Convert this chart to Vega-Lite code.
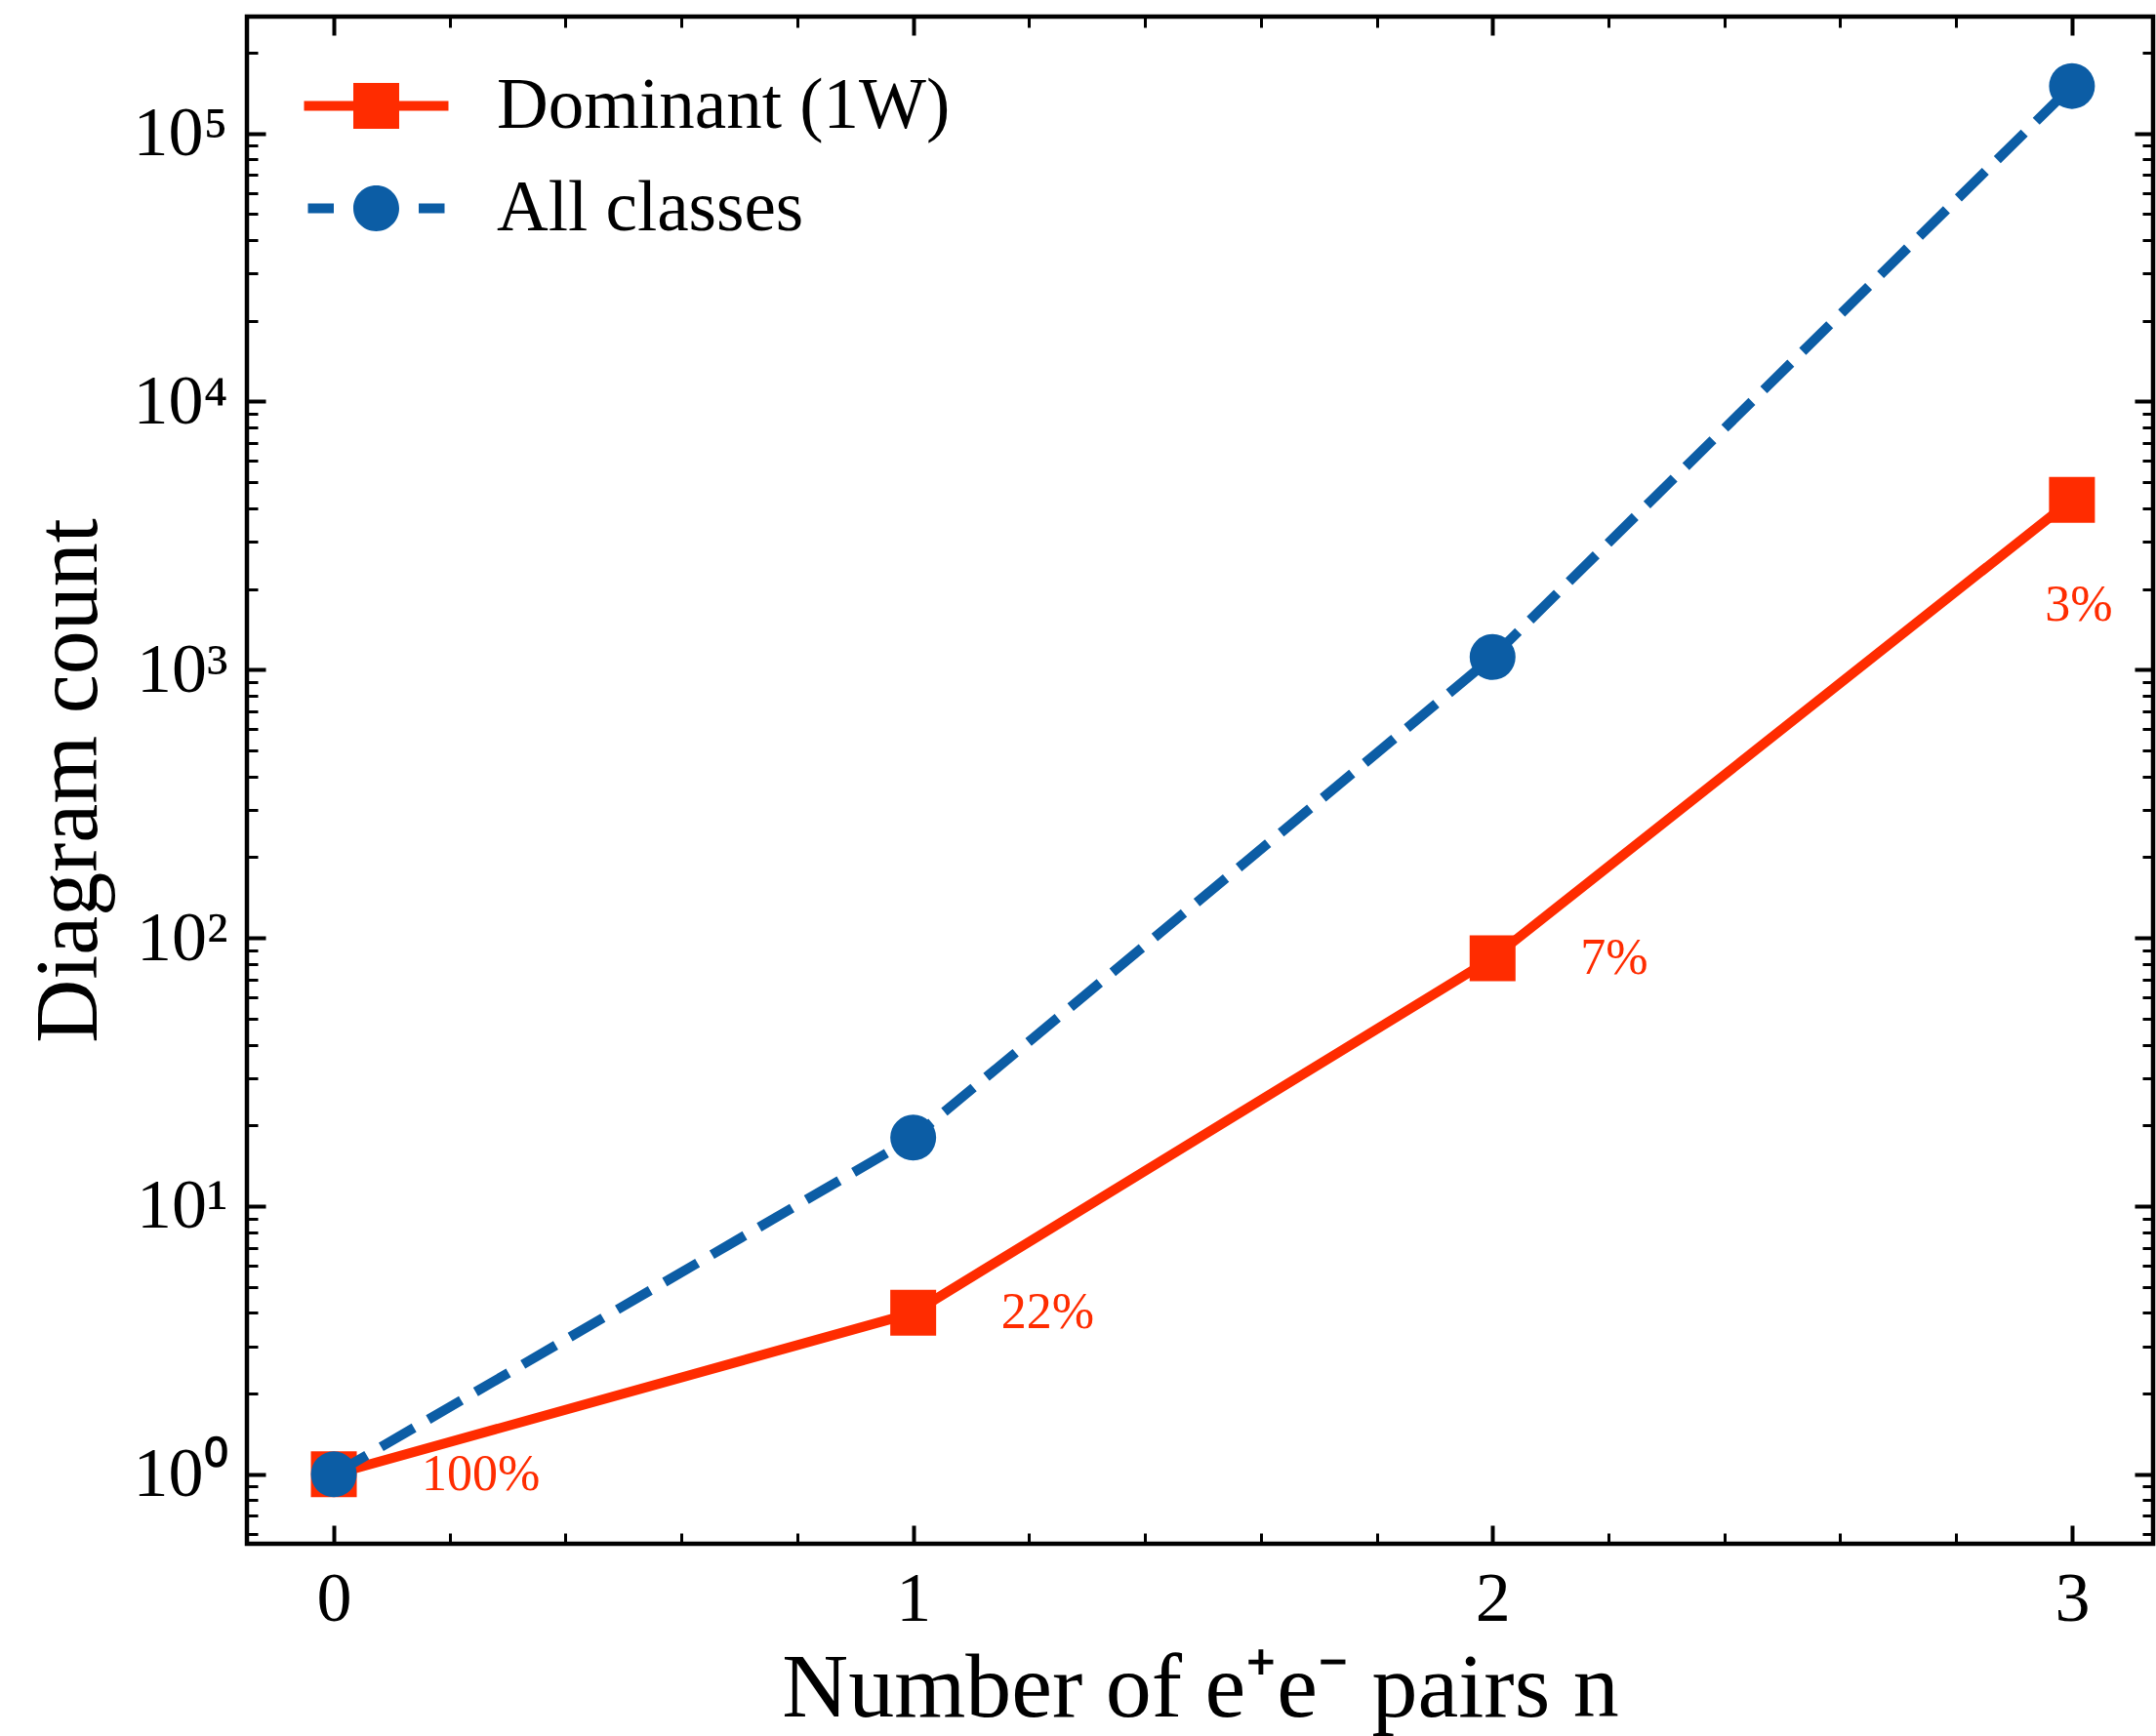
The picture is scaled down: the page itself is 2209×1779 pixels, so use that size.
{
  "$schema": "https://vega.github.io/schema/vega-lite/v6.json",
  "autosize": {"type": "none"},
  "padding": {"left": 253, "top": 17, "right": 3, "bottom": 197},
  "width": 1953,
  "height": 1565,
  "background": "white",
  "config": {
    "view": {"stroke": "black", "strokeWidth": 4.5},
    "font": "Liberation Serif"
  },
  "data": {
    "values": [
      {"n": 0, "series": "Dominant (1W)", "count": 1, "pct": "100%"},
      {"n": 1, "series": "Dominant (1W)", "count": 4, "pct": "22%"},
      {"n": 2, "series": "Dominant (1W)", "count": 84, "pct": "7%"},
      {"n": 3, "series": "Dominant (1W)", "count": 4300, "pct": "3%"},
      {"n": 0, "series": "All classes", "count": 1},
      {"n": 1, "series": "All classes", "count": 18},
      {"n": 2, "series": "All classes", "count": 1115},
      {"n": 3, "series": "All classes", "count": 150000}
    ]
  },
  "encoding": {
    "color": {
      "field": "series",
      "type": "nominal",
      "scale": {"domain": ["Dominant (1W)", "All classes"], "range": ["#FF2C00", "#0C5DA5"]},
      "legend": {
        "title": null,
        "orient": "none",
        "legendX": 96,
        "legendY": 55,
        "padding": 0,
        "symbolSize": 4900,
        "labelFontSize": 73,
        "labelFont": "Liberation Serif",
        "labelColor": "black",
        "labelOffset": 87,
        "rowPadding": 31,
        "labelLimit": 1000,
        "symbolStrokeWidth": 0,
        "symbolOpacity": 1,
        "encode": {
          "symbols": {
            "update": {
              "shape": {"signal": "datum.value === 'All classes' ? 'M-2,-0.143H-1.243V0.143H-2Z M1.243,-0.143H2V0.143H1.243Z M0.671,0A0.671,0.671,0,1,1,-0.671,0A0.671,0.671,0,1,1,0.671,0Z' : 'M-2.114,-0.143H2.114V0.143H-2.114Z M-0.671,-0.671H0.671V0.671H-0.671Z'"},
              "fill": {"scale": "color", "field": "value"},
              "stroke": {"value": "transparent"},
              "strokeWidth": {"value": 0},
              "opacity": {"value": 1},
              "size": {"value": 4900}
            }
          }
        }
      }
    }
  },
  "layer": [
    {
      "transform": [{"filter": "datum.series === 'Dominant (1W)'"}],
      "mark": {"type": "line", "strokeWidth": 10, "strokeCap": "square", "strokeJoin": "round"},
      "encoding": {
        "x": {
          "field": "n", "type": "quantitative",
          "scale": {"domain": [-0.15, 3.14], "nice": false, "zero": false},
          "axis": {
            "orient": "bottom", "values": [0, 1, 2, 3], "format": "d",
            "domain": false, "grid": false,
            "tickSize": -19, "tickWidth": 4, "tickColor": "black",
            "labelFont": "Liberation Serif", "labelFontSize": 72, "labelColor": "black",
            "labelPadding": 40, "labelFlush": false, "labelOverlap": false,
            "title": "Number of e⁺e⁻ pairs n",
            "titleFont": "Liberation Serif", "titleFontSize": 94, "titleFontWeight": "normal",
            "titleColor": "black", "titlePadding": 10
          }
        },
        "y": {
          "field": "count", "type": "quantitative",
          "scale": {"type": "log", "domain": [0.551, 272200], "nice": false},
          "axis": {
            "orient": "left", "values": [1, 10, 100, 1000, 10000, 100000],
            "labelExpr": "'10' + ['⁰','¹','²','³','⁴','⁵'][round(log(datum.value)/LN10)]",
            "domain": false, "grid": false,
            "tickSize": -19, "tickWidth": 4, "tickColor": "black",
            "labelFont": "Liberation Serif", "labelFontSize": 72, "labelColor": "black",
            "labelPadding": 39, "labelFlush": false, "labelOverlap": false,
            "title": "Diagram count",
            "titleFont": "Liberation Serif", "titleFontSize": 90, "titleFontWeight": "normal",
            "titleColor": "black", "titlePadding": 18
          }
        }
      }
    },
    {
      "transform": [{"filter": "datum.series === 'Dominant (1W)'"}],
      "mark": {"type": "point", "shape": "square", "filled": true, "size": 2209, "opacity": 1, "strokeWidth": 0},
      "encoding": {
        "x": {
          "field": "n", "type": "quantitative",
          "scale": {"domain": [-0.15, 3.14], "nice": false, "zero": false},
          "axis": {
            "orient": "bottom", "values": [0.2, 0.4, 0.6, 0.8, 1.2, 1.4, 1.6, 1.8, 2.2, 2.4, 2.6, 2.8],
            "domain": false, "grid": false, "labels": false,
            "tickSize": -11, "tickWidth": 3, "tickColor": "black", "title": null
          }
        },
        "y": {
          "field": "count", "type": "quantitative",
          "scale": {"type": "log", "domain": [0.551, 272200], "nice": false},
          "axis": {
            "orient": "left",
            "values": [0.6, 0.7, 0.8, 0.9, 2, 3, 4, 5, 6, 7, 8, 9, 20, 30, 40, 50, 60, 70, 80, 90, 200, 300, 400, 500, 600, 700, 800, 900, 2000, 3000, 4000, 5000, 6000, 7000, 8000, 9000, 20000, 30000, 40000, 50000, 60000, 70000, 80000, 90000, 200000],
            "domain": false, "grid": false, "labels": false,
            "tickSize": -11, "tickWidth": 3, "tickColor": "black", "title": null
          }
        }
      }
    },
    {
      "transform": [{"filter": "datum.series === 'All classes'"}],
      "mark": {"type": "line", "strokeWidth": 10, "strokeDash": [39, 17], "strokeCap": "butt"},
      "encoding": {
        "x": {
          "field": "n", "type": "quantitative",
          "scale": {"domain": [-0.15, 3.14], "nice": false, "zero": false},
          "axis": {
            "orient": "top", "values": [0, 1, 2, 3],
            "domain": false, "grid": false, "labels": false,
            "tickSize": -19, "tickWidth": 4, "tickColor": "black", "title": null
          }
        },
        "y": {
          "field": "count", "type": "quantitative",
          "scale": {"type": "log", "domain": [0.551, 272200], "nice": false},
          "axis": {
            "orient": "right", "values": [1, 10, 100, 1000, 10000, 100000],
            "domain": false, "grid": false, "labels": false,
            "tickSize": -19, "tickWidth": 4, "tickColor": "black", "title": null
          }
        }
      }
    },
    {
      "transform": [{"filter": "datum.series === 'All classes'"}],
      "mark": {"type": "point", "shape": "circle", "filled": true, "size": 2209, "opacity": 1, "strokeWidth": 0},
      "encoding": {
        "x": {
          "field": "n", "type": "quantitative",
          "scale": {"domain": [-0.15, 3.14], "nice": false, "zero": false},
          "axis": {
            "orient": "top", "values": [0.2, 0.4, 0.6, 0.8, 1.2, 1.4, 1.6, 1.8, 2.2, 2.4, 2.6, 2.8],
            "domain": false, "grid": false, "labels": false,
            "tickSize": -11, "tickWidth": 3, "tickColor": "black", "title": null
          }
        },
        "y": {
          "field": "count", "type": "quantitative",
          "scale": {"type": "log", "domain": [0.551, 272200], "nice": false},
          "axis": {
            "orient": "right",
            "values": [0.6, 0.7, 0.8, 0.9, 2, 3, 4, 5, 6, 7, 8, 9, 20, 30, 40, 50, 60, 70, 80, 90, 200, 300, 400, 500, 600, 700, 800, 900, 2000, 3000, 4000, 5000, 6000, 7000, 8000, 9000, 20000, 30000, 40000, 50000, 60000, 70000, 80000, 90000, 200000],
            "domain": false, "grid": false, "labels": false,
            "tickSize": -11, "tickWidth": 3, "tickColor": "black", "title": null
          }
        }
      }
    },
    {
      "transform": [{"filter": "datum.series === 'Dominant (1W)' && datum.n < 3"}],
      "mark": {"type": "text", "align": "left", "baseline": "middle", "dx": 90, "fontSize": 52, "font": "Liberation Serif", "color": "#FF2C00"},
      "encoding": {
        "x": {"field": "n", "type": "quantitative", "axis": null},
        "y": {"field": "count", "type": "quantitative", "axis": null},
        "text": {"field": "pct"},
        "color": {"value": "#FF2C00"}
      }
    },
    {
      "transform": [{"filter": "datum.series === 'Dominant (1W)' && datum.n === 3"}],
      "mark": {"type": "text", "align": "center", "baseline": "middle", "dx": 7, "dy": 108, "fontSize": 52, "font": "Liberation Serif", "color": "#FF2C00"},
      "encoding": {
        "x": {"field": "n", "type": "quantitative", "axis": null},
        "y": {"field": "count", "type": "quantitative", "axis": null},
        "text": {"field": "pct"},
        "color": {"value": "#FF2C00"}
      }
    }
  ],
  "resolve": {"axis": {"x": "independent", "y": "independent"}}
}
